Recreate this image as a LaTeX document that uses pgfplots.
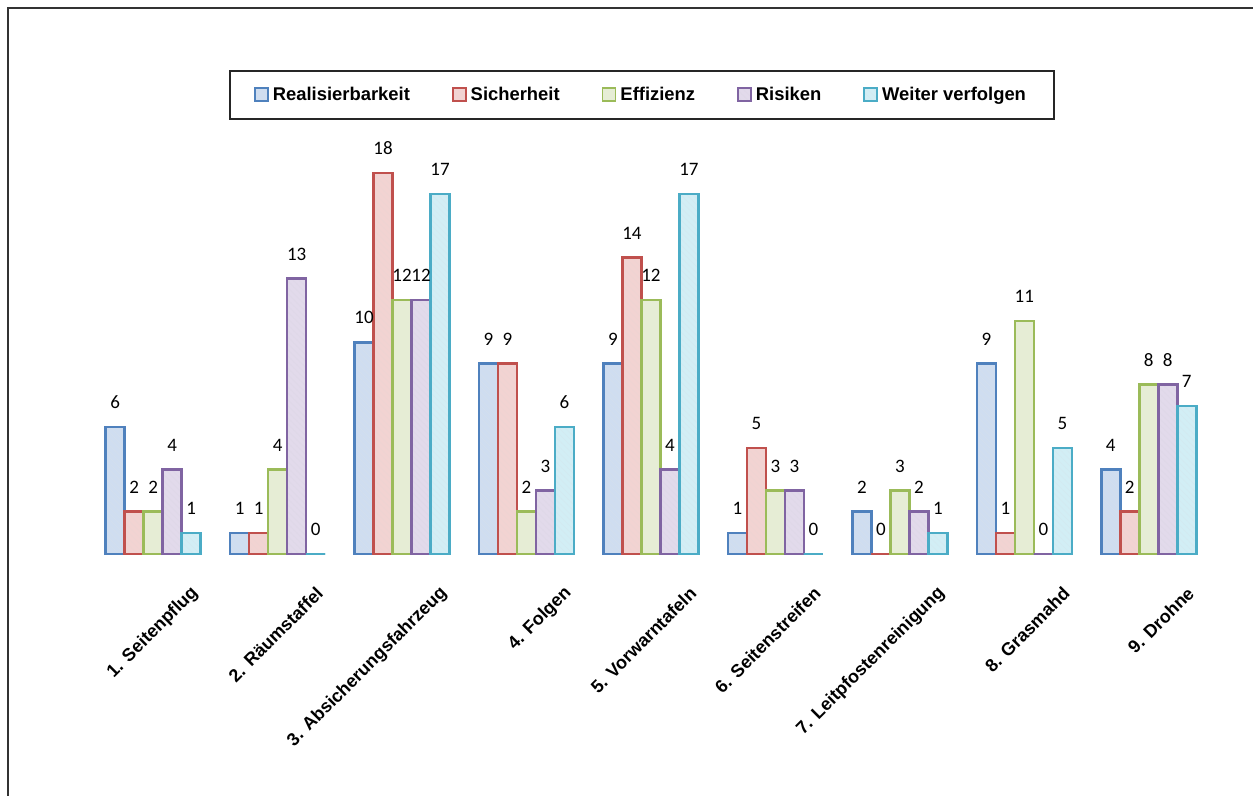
\documentclass[border=0pt]{standalone}
\usepackage{fontspec}
\setmainfont{Liberation Sans}
\newfontfamily\carl{Carlito}
\usepackage{pgfplots}
\pgfplotsset{compat=1.18}
\usetikzlibrary{patterns.meta}

\definecolor{cBlue}{HTML}{4F81BD}
\definecolor{cRed}{HTML}{C0504D}
\definecolor{cGreen}{HTML}{9BBB59}
\definecolor{cPurple}{HTML}{8064A2}
\definecolor{cAqua}{HTML}{4BACC6}
\definecolor{fBlue}{HTML}{CFDDF0}
\definecolor{fRed}{HTML}{F2D3D2}
\definecolor{fGreen}{HTML}{E6EDD5}
\definecolor{fPurple}{HTML}{E2DAEB}
\definecolor{fAqua}{HTML}{D2EEF5}

\pgfplotsset{
  hbar/.style n args={2}{
    draw=#1, fill=#2, line width=1.3pt,
    postaction={pattern={Lines[angle=-45,distance=2.2pt,line width=0.35pt]}, pattern color=#1!25},
    legend image code/.code={\draw[##1, line width=0.9pt] (0pt,-3pt) rectangle (6.5pt,3.5pt);}
  }
}

\begin{document}
\begin{tikzpicture}
\useasboundingbox (0,0) rectangle (626.5pt,398pt);
\draw[line width=1pt, black!80] (4pt,0) -- (4pt,394pt) -- (626.5pt,394pt);
\begin{axis}[
  at={(45.5pt,121pt)}, anchor=south west,
  scale only axis, width=560pt, height=211.7pt,
  xmin=-0.5, xmax=8.5, ymin=0, ymax=20,
  enlargelimits=false, clip=false,
  ybar=0pt, bar width=9.5pt,
  axis line style={draw=none}, tick style={draw=none},
  ytick=\empty,
  xtick={0,...,8},
  xticklabels={1. Seitenpflug, 2. Räumstaffel, 3. Absicherungsfahrzeug, 4. Folgen, 5. Vorwarntafeln, 6. Seitenstreifen, 7. Leitpfostenreinigung, 8. Grasmahd, 9. Drohne},
  xticklabel style={font=\fontsize{9}{11}\selectfont\bfseries, anchor=east, xshift=23.5pt, yshift=-11.5pt, rotate=45},
  nodes near coords,
  /pgf/number format/assume math mode=true,
  every node near coord/.append style={font=\carl\fontsize{9.5}{11}\selectfont, inner sep=0pt, anchor=south, yshift=8.5pt, text=black},
  legend columns=5,
  legend style={at={(0.492,1.084)}, anchor=center, draw=black!85, line width=0.8pt,
    font=\fontsize{9.2}{11}\selectfont\bfseries, inner xsep=12pt, inner ysep=6pt,
    /tikz/every even column/.append style={column sep=19pt}},
]
\addplot[hbar={cBlue}{fBlue}] coordinates {(0,6) (1,1) (2,10) (3,9) (4,9) (5,1) (6,2) (7,9) (8,4)};
\addplot[hbar={cRed}{fRed}] coordinates {(0,2) (1,1) (2,18) (3,9) (4,14) (5,5) (6,0) (7,1) (8,2)};
\addplot[hbar={cGreen}{fGreen}] coordinates {(0,2) (1,4) (2,12) (3,2) (4,12) (5,3) (6,3) (7,11) (8,8)};
\addplot[hbar={cPurple}{fPurple}] coordinates {(0,4) (1,13) (2,12) (3,3) (4,4) (5,3) (6,2) (7,0) (8,8)};
\addplot[hbar={cAqua}{fAqua}] coordinates {(0,1) (1,0) (2,17) (3,6) (4,17) (5,0) (6,1) (7,5) (8,7)};
\legend{Realisierbarkeit, Sicherheit, Effizienz, Risiken, Weiter verfolgen}
\end{axis}
\end{tikzpicture}
\end{document}
